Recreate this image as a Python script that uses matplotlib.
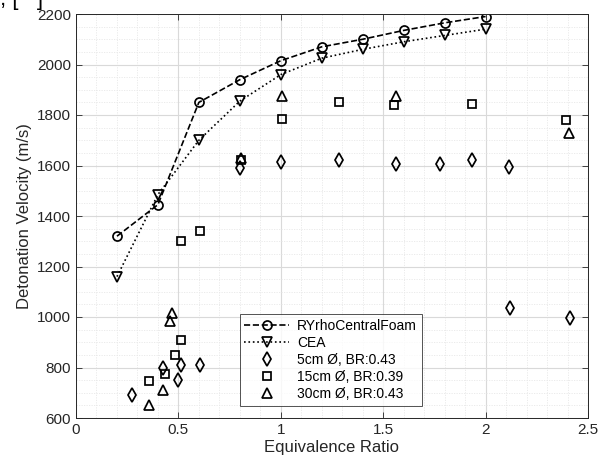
import matplotlib
matplotlib.use("Agg")
import matplotlib.pyplot as plt
from matplotlib.ticker import MultipleLocator, FuncFormatter

plt.rcParams["font.family"] = ["Liberation Sans", "DejaVu Sans"]

# simulation and equilibrium curves
phi_sim = [0.2, 0.4, 0.6, 0.8, 1.0, 1.2, 1.4, 1.6, 1.8, 2.0]
v_rhocf = [1320, 1445, 1850, 1940, 2015, 2070, 2100, 2135, 2165, 2190]
v_cea = [1160, 1485, 1700, 1855, 1960, 2025, 2060, 2090, 2115, 2140]

# experimental points
phi_5cm = [0.275, 0.427, 0.50, 0.513, 0.606, 0.80, 1.0, 1.286, 1.562, 1.775, 1.935, 2.115, 2.117, 2.41]
v_5cm = [690, 800, 750, 810, 810, 1590, 1615, 1620, 1605, 1605, 1620, 1595, 1035, 995]
phi_15cm = [0.357, 0.433, 0.482, 0.513, 0.513, 0.607, 0.805, 1.005, 1.286, 1.555, 1.935, 2.392]
v_15cm = [745, 775, 850, 910, 1300, 1340, 1620, 1785, 1850, 1840, 1845, 1780]
phi_30cm = [0.357, 0.427, 0.459, 0.469, 0.805, 1.005, 1.563, 2.405]
v_30cm = [650, 710, 985, 1015, 1630, 1875, 1875, 1730]

fig = plt.figure(figsize=(6.03, 4.66), dpi=100)
ax = fig.add_axes([76 / 603, 48 / 466, 512 / 603, 404 / 466])

mk = dict(mfc="none", mec="black", mew=1.25)
ax.plot(phi_sim, v_rhocf, "k--", marker="o", ms=6.5, lw=1.2, label="RYrhoCentralFoam", **mk)
ax.plot(phi_sim, v_cea, "k:", marker="v", ms=7, lw=1.2, label="CEA", **mk)
ax.plot(phi_5cm, v_5cm, ls="none", marker="d", ms=7, label="5cm Ø, BR:0.43", **mk)
ax.plot(phi_15cm, v_15cm, ls="none", marker="s", ms=5.5, label="15cm Ø, BR:0.39", **mk)
ax.plot(phi_30cm, v_30cm, ls="none", marker="^", ms=7, label="30cm Ø, BR:0.43", **mk)

ax.set_xlim(0, 2.5)
ax.set_ylim(600, 2200)
ax.xaxis.set_major_locator(MultipleLocator(0.5))
ax.xaxis.set_minor_locator(MultipleLocator(0.1))
ax.yaxis.set_major_locator(MultipleLocator(200))
ax.yaxis.set_minor_locator(MultipleLocator(50))
ax.xaxis.set_major_formatter(FuncFormatter(lambda v, p: f"{v:g}"))

ax.grid(which="major", color="#d9d9d9", lw=0.8)
ax.grid(which="minor", color="#e8e8e8", lw=0.6, ls=(0, (1.5, 1.5)))
ax.set_axisbelow(True)
ax.tick_params(which="both", direction="in", top=True, right=True, labelsize=11, colors="#262626")
ax.tick_params(which="minor", length=0)
ax.tick_params(which="major", length=4, width=0.6)
for s in ax.spines.values():
    s.set_color("#262626")
    s.set_linewidth(0.7)

ax.set_xlabel("Equivalence Ratio", fontsize=12, color="#262626", labelpad=2)
ax.set_ylabel("Detonation Velocity (m/s)", fontsize=12, color="#262626", labelpad=4)

leg = ax.legend(loc="lower left", bbox_to_anchor=(0.306, 0.013), fontsize=10,
                frameon=True, fancybox=False, edgecolor="#262626",
                handlelength=3.2, handletextpad=0.6, borderpad=0.35, labelspacing=0.22)
leg.get_frame().set_linewidth(0.7)

fig.text(0.0, 1.0, ", [   ]", fontsize=16, va="center", ha="left")

fig.savefig("out.png", dpi=100)
